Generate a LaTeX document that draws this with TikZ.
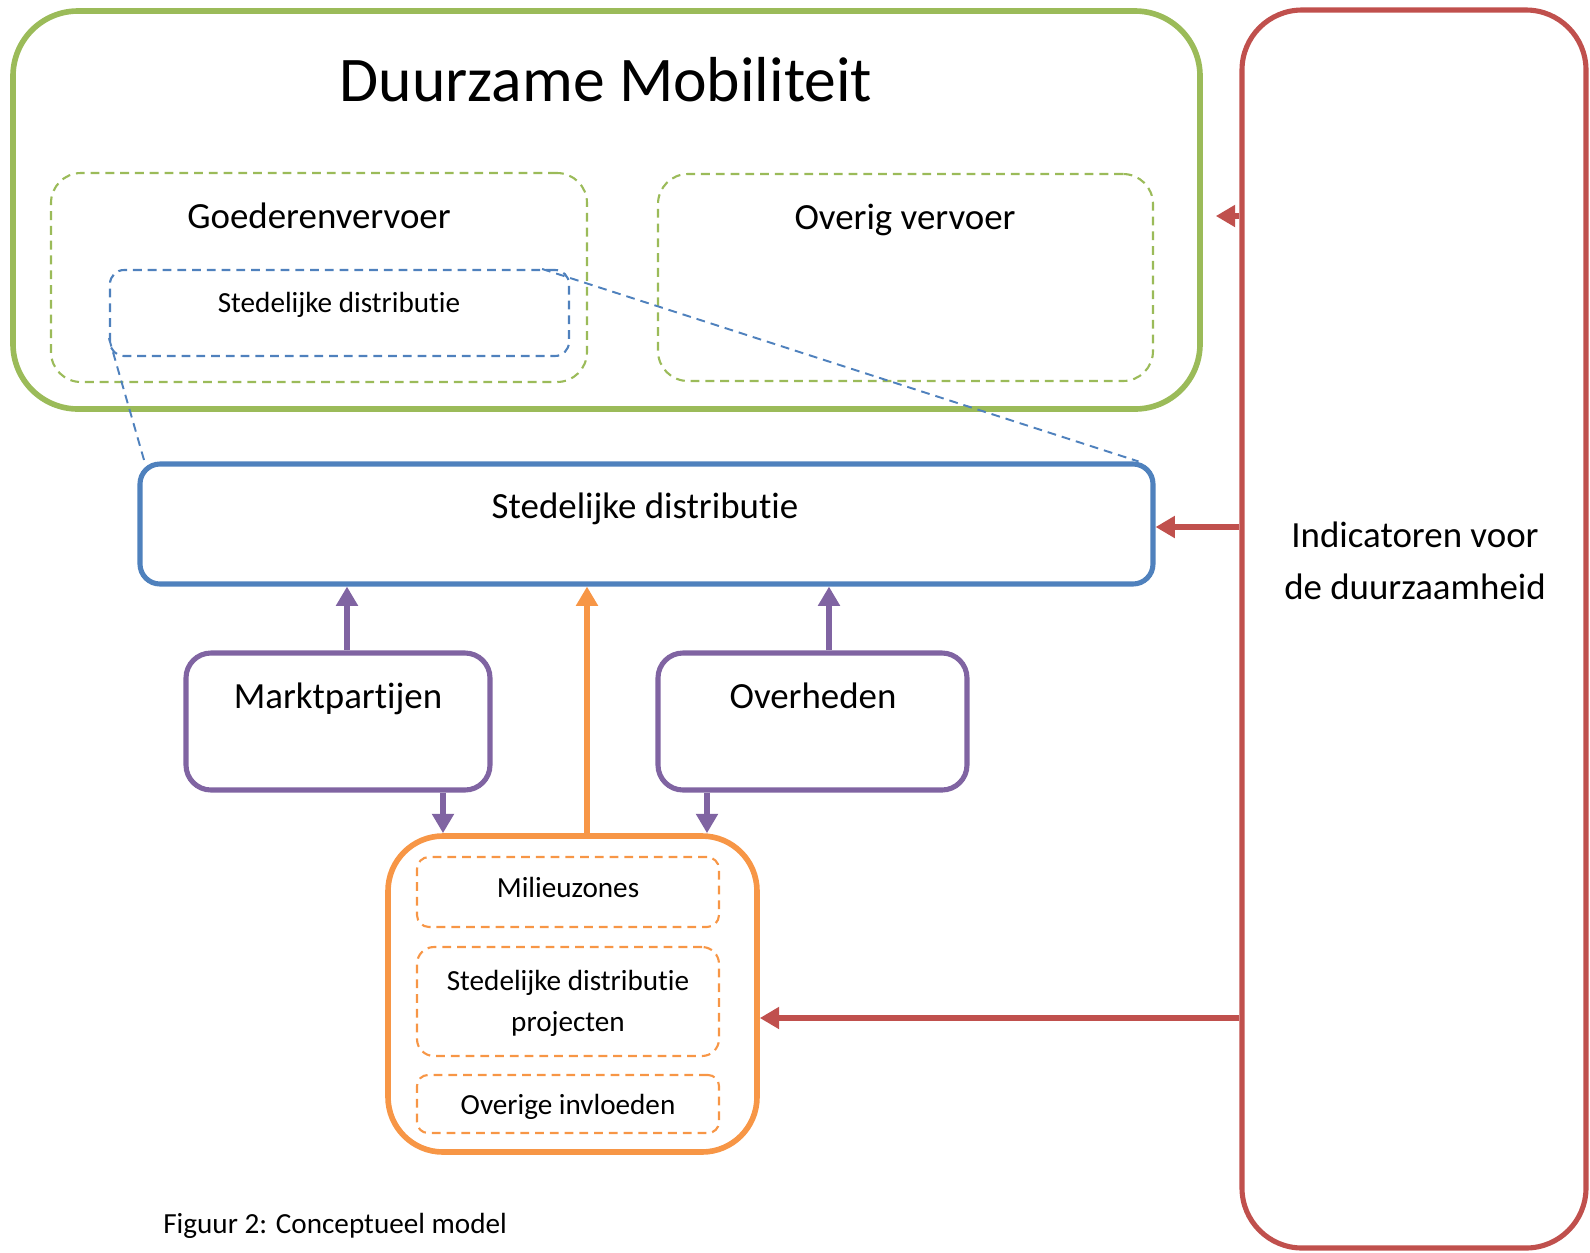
\documentclass[tikz,border=0pt]{standalone}
\usepackage{fontspec}
\setmainfont{Carlito}[Ligatures={NoCommon}]
\usetikzlibrary{arrows.meta,fit,calc}
\definecolor{cgreen}{HTML}{9BBB59}
\definecolor{cblue}{HTML}{4F81BD}
\definecolor{cpurple}{HTML}{8064A2}
\definecolor{corange}{HTML}{F79646}
\definecolor{cred}{HTML}{C0504D}
\begin{document}
\begin{tikzpicture}[x=0.02cm,y=-0.02cm,
  box/.style={draw, inner sep=0pt, fill=none},
  thick box/.style={box, line width=2.9pt},
  dash box/.style={box, line width=1.2pt, dash pattern=on 5pt off 3.4pt},
  bigtxt/.style={anchor=base, inner sep=0pt, font=\fontsize{21}{25}\selectfont},
  smalltxt/.style={anchor=base, inner sep=0pt, font=\fontsize{16.6}{20}\selectfont},
  tip/.style={-{Triangle[length=11pt,width=12pt]}},
  parr/.style={tip, draw=cpurple, fill=cpurple, line width=3pt},
  oarr/.style={tip, draw=corange, fill=corange, line width=3pt},
  rarr/.style={tip, draw=cred, fill=cred, line width=3.3pt},
  link/.style={draw=cblue, line width=1.1pt, dash pattern=on 5pt off 3.4pt}
]
\useasboundingbox (0,0) rectangle (1590,1252);

% Duurzame Mobiliteit
\node[thick box, draw=cgreen, line width=3.2pt, rounded corners=1.3cm, fit={(13,11) (1200,409)}] (green) {};
\node[anchor=base, inner sep=0pt, font=\fontsize{36.2}{43}\selectfont] (title) at (606,101) {Duurzame Mobiliteit};
\node[dash box, draw=cgreen, rounded corners=0.6cm, fit={(51,173) (587,382)}] (goed) {};
\node[bigtxt] (goedt) at (319,228) {Goederenvervoer};
\node[dash box, draw=cgreen, rounded corners=0.6cm, fit={(658,174) (1153,381)}] (overig) {};
\node[bigtxt] (overigt) at (905,229) {Overig vervoer};
\node[dash box, draw=cblue, rounded corners=0.28cm, fit={(110,270) (569,356)}] (sdsmall) {};
\node[smalltxt] (sdsmallt) at (339,312) {Stedelijke distributie};

% Stedelijke distributie
\node[thick box, draw=cblue, rounded corners=0.4cm, fit={(140,464) (1153,584)}] (sdbig) {};
\node[bigtxt] (sdbigt) at (645,518) {Stedelijke distributie};

\draw[link] ($(sdsmall.south west)+(0,-19)$) -- ($(sdbig.north west)+(7,0)$);
\draw[link] ($(sdsmall.north east)+(-28,0)$) -- ($(sdbig.north east)+(-17,0)$);

% actors
\node[thick box, draw=cpurple, rounded corners=0.5cm, fit={(186,653) (490,790)}] (markt) {};
\node[bigtxt] (marktt) at (338,708) {Marktpartijen};
\node[thick box, draw=cpurple, rounded corners=0.5cm, fit={(658,653) (967,790)}] (overh) {};
\node[bigtxt] (overht) at (813,708) {Overheden};

% orange box
\node[thick box, draw=corange, line width=3.2pt, rounded corners=1.1cm, fit={(388,836) (757,1152)}] (orange) {};
\node[dash box, draw=corange, rounded corners=0.24cm, fit={(417,857) (719,927)}] (milieu) {};
\node[smalltxt] (milieut) at (568,897) {Milieuzones};
\node[dash box, draw=corange, rounded corners=0.34cm, fit={(417,947) (719,1056)}] (sdp) {};
\node[smalltxt] (sdpt1) at (568,990) {Stedelijke distributie};
\node[smalltxt] (sdpt2) at (568,1031) {projecten};
\node[dash box, draw=corange, rounded corners=0.22cm, fit={(417,1075) (719,1133)}] (overige) {};
\node[smalltxt] (overiget) at (568,1114) {Overige invloeden};

% red box
\node[thick box, draw=cred, rounded corners=1.2cm, fit={(1242,10) (1586,1248)}] (red) {};
\node[bigtxt] (redt1) at (1415,547) {Indicatoren voor};
\node[bigtxt] (redt2) at (1415,599) {de duurzaamheid};

% caption
\node[anchor=base west, inner sep=0pt, font=\fontsize{16.6}{20}\selectfont] (caption) at (163,1233) {Figuur 2: Conceptueel model};

% connectors
\draw[parr] (markt.north -| 347,0) -- (sdbig.south -| 347,0);
\draw[parr] (overh.north -| 829,0) -- (sdbig.south -| 829,0);
\draw[oarr] (orange.north -| 587,0) -- (sdbig.south -| 587,0);
\draw[parr] (markt.south -| 443,0) -- (orange.north -| 443,0);
\draw[parr] (overh.south -| 707,0) -- (orange.north -| 707,0);

\coordinate (gtip) at ($(green.east |- 0,216)+(13,0)$);
\draw[rarr] (red.west |- 0,216) -- (gtip);
\draw[rarr] (red.west |- 0,527) -- (sdbig.east |- 0,527);
\draw[rarr] (red.west |- 0,1018) -- (orange.east |- 0,1018);
\end{tikzpicture}
\end{document}
